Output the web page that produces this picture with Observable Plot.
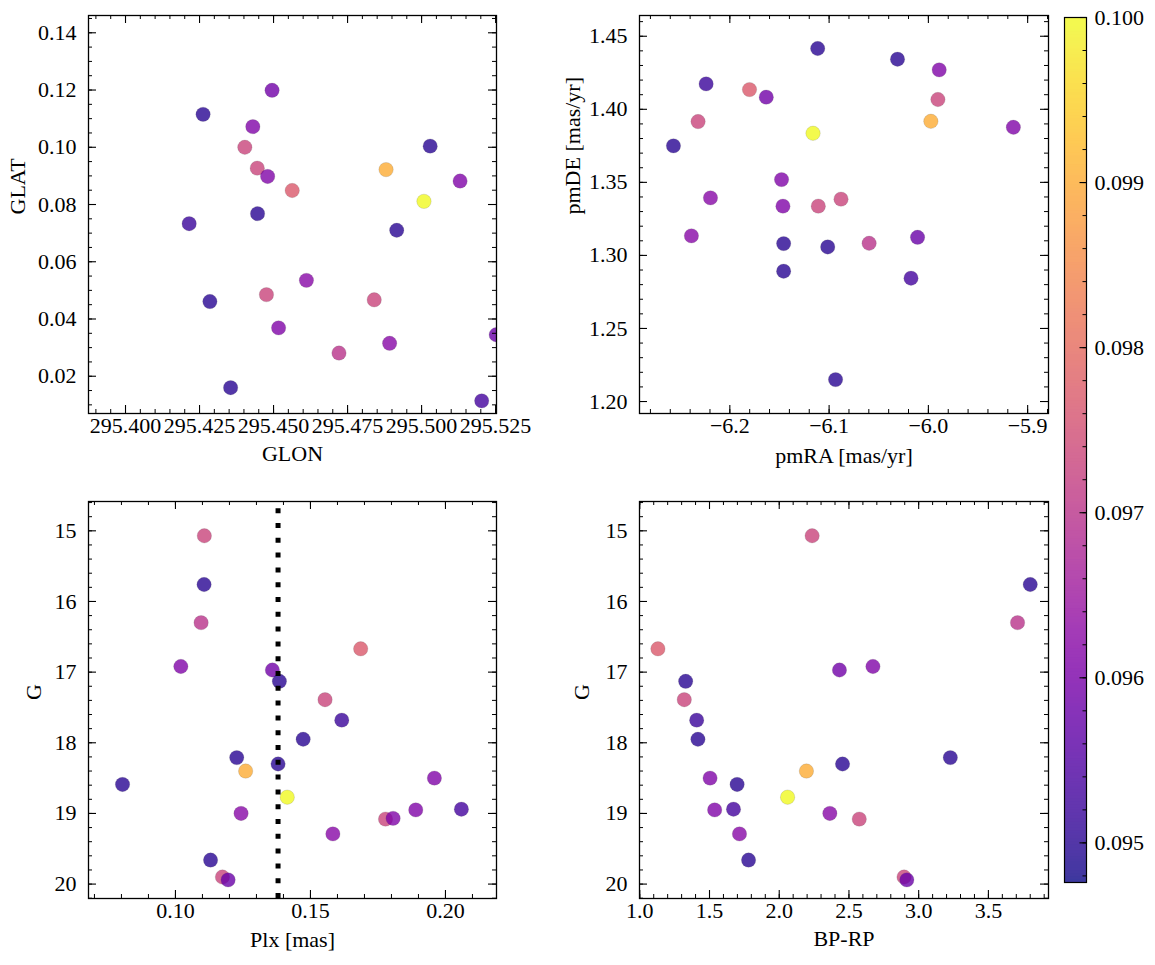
<!DOCTYPE html>
<html><head><meta charset="utf-8">
<script src="https://cdn.jsdelivr.net/npm/d3@7"></script>
<script src="https://cdn.jsdelivr.net/npm/@observablehq/plot@0.6"></script>
<style>
body{margin:0;background:#fff;}
#fig{position:relative;width:1155px;height:965px;background:#fff;overflow:hidden;}
#fig > div{position:absolute;}
#fig svg{background:transparent;overflow:visible;}
</style></head><body><div id="fig"></div>
<script>
// ---- data (one entry per star) ----
const starId = ["S1","S2","S3","S4","S5","S6","S7","S8","S9","S10","S11","S12","S13","S14","S15","S16","S17","S18","S19","S20","S21","S22","S23","S24","S25"];
const glon = [295.4445,295.4262,295.4721,295.4563,295.4480,295.4495,295.4446,295.4403,295.4215,295.5029,295.4916,295.4285,295.4880,295.4430,295.4355,295.5008,295.5130,295.5203,295.4611,295.4476,295.4517,295.4892,null,295.4840,295.5252];
const glat = [0.0927,0.1115,0.0281,0.0849,0.0898,0.1199,0.0768,0.1000,0.0733,0.1004,0.0710,0.0461,0.0922,0.1072,0.0160,0.0811,0.0882,0.0114,0.0535,0.0485,0.0369,0.0315,null,0.0467,0.0345];
const pmra = [-6.2320,-6.1115,-6.0597,-6.1802,-5.9891,-6.1633,-6.0311,-5.9904,-6.2239,-6.2568,-6.1458,-6.1014,-5.9975,-5.9144,-6.1458,-6.1162,-6.1479,-6.0175,-6.2195,-6.1109,-6.1465,-6.2387,-6.0935,-6.0880,-6.0109];
const pmde = [1.3916,1.4416,1.3083,1.4135,1.4270,1.4083,1.4343,1.4067,1.4174,1.3750,1.3081,1.3058,1.3918,1.3877,1.2892,1.3836,1.3519,1.2844,1.3394,1.3337,1.3337,1.3134,1.2150,1.3385,1.3124];
const plx  = [0.1107,0.1106,0.1095,0.1686,0.1020,0.1359,0.1385,0.1554,0.1616,0.1473,0.1227,0.1380,0.1260,0.1959,0.0804,0.1414,0.1890,0.2059,0.1243,0.1778,0.1806,0.1583,0.1130,0.1174,0.1195];
const gmag = [15.07,15.76,16.30,16.67,16.92,16.97,17.13,17.39,17.68,17.95,18.21,18.30,18.40,18.50,18.59,18.77,18.95,18.94,19.00,19.08,19.07,19.29,19.66,19.90,19.94];
const bprp = [2.236,3.800,3.709,1.130,2.672,2.432,1.329,1.319,1.408,1.417,3.227,2.454,2.195,1.504,1.698,2.060,1.537,1.672,2.363,2.574,null,1.715,1.780,2.895,2.915];
const cval = [0.0973,0.0950,0.0970,0.0977,0.0961,0.0959,0.0950,0.0973,0.0952,0.0950,0.0950,0.0950,0.0990,0.0961,0.0950,0.1000,0.0961,0.0953,0.0962,0.0973,0.0961,0.0962,0.0950,0.0973,0.0958];
const plxRef = 0.1380;

// ---- tick labels ----
const glonTicks = [295.400,295.425,295.450,295.475,295.500,295.525];
const glatTicks = [0.02,0.04,0.06,0.08,0.10,0.12,0.14];
const pmraTicks = [-6.2,-6.1,-6.0,-5.9];
const pmdeTicks = [1.20,1.25,1.30,1.35,1.40,1.45];
const plxTicks  = [0.10,0.15,0.20];
const gTicks    = [15,16,17,18,19,20];
const bprpTicks = [1.0,1.5,2.0,2.5,3.0,3.5];
const cTicks    = [0.095,0.096,0.097,0.098,0.099,0.100];
const cDomain   = [0.09476,0.1000];

const stars = starId.map((id,i)=>({id, glon:glon[i], glat:glat[i], pmra:pmra[i], pmde:pmde[i], plx:plx[i], g:gmag[i], bprp:bprp[i], c:cval[i]}));

const FONT = "'Liberation Serif','Times New Roman',serif";
const FS = 22;
const colorScale = {type:"linear", scheme:"plasma", domain:cDomain};

function minor(dom, step){
  const lo = Math.min(dom[0],dom[1]), hi = Math.max(dom[0],dom[1]);
  const a = Math.ceil(lo/step - 1e-6), b = Math.floor(hi/step + 1e-6);
  return d3.range(a, b+1).map(k => +(k*step).toPrecision(12));
}
const minus = s => s.replace("-", "\u2212");

function panel(o){
  const W = o.width - o.ml - o.mr, H = o.height - o.mt - o.mb;
  const data = stars.filter(d => d[o.x] != null && d[o.y] != null);
  const xmin = minor(o.xDomain, o.xMinor), ymin = minor(o.yDomain, o.yMinor);
  const xmaj = o.xTicks, ymaj = o.yTicks;
  const L = 8, l = 4;
  const marks = [
    Plot.dot(data, {x:o.x, y:o.y, r:7.2, fill:"c", fillOpacity:0.8, stroke:"#555", strokeOpacity:0.35, strokeWidth:0.5, clip:true}),
    ...(o.extra || []),
    Plot.frame({stroke:"black", strokeWidth:1.3}),
    Plot.ruleX(xmin, {x:d=>d, insetTop:H-l, stroke:"black", strokeWidth:1}),
    Plot.ruleX(xmin, {x:d=>d, insetBottom:H-l, stroke:"black", strokeWidth:1}),
    Plot.ruleX(xmaj, {x:d=>d, insetTop:H-L, stroke:"black", strokeWidth:1.1}),
    Plot.ruleX(xmaj, {x:d=>d, insetBottom:H-L, stroke:"black", strokeWidth:1.1}),
    Plot.ruleY(ymin, {y:d=>d, insetRight:W-l, stroke:"black", strokeWidth:1}),
    Plot.ruleY(ymin, {y:d=>d, insetLeft:W-l, stroke:"black", strokeWidth:1}),
    Plot.ruleY(ymaj, {y:d=>d, insetRight:W-L, stroke:"black", strokeWidth:1.1}),
    Plot.ruleY(ymaj, {y:d=>d, insetLeft:W-L, stroke:"black", strokeWidth:1.1}),
    Plot.text(xmaj, {x:d=>d, frameAnchor:"bottom", dy:19, text:o.xFmt, fontSize:FS, fill:"black"}),
    Plot.text(ymaj, {y:d=>d, frameAnchor:"left", dx:-12, textAnchor:"end", text:o.yFmt, fontSize:FS, fill:"black"}),
    Plot.text([o.xLabel], {frameAnchor:"bottom", dy:o.xLabelDy + 4, text:d=>d, fontSize:FS, fill:"black"}),
    Plot.text([o.yLabel], {frameAnchor:"left", dx:o.yLabelDx, rotate:-90, text:d=>d, fontSize:FS, fill:"black"})
  ];
  const svg = Plot.plot({
    width:o.width, height:o.height,
    marginLeft:o.ml, marginRight:o.mr, marginTop:o.mt, marginBottom:o.mb,
    style:{fontFamily:FONT, background:"transparent", overflow:"visible"},
    x:{domain:o.xDomain, axis:null},
    y:{domain:o.yDomain, axis:null},
    color:colorScale,
    marks
  });
  const div = document.createElement("div");
  div.style.left = o.left + "px"; div.style.top = o.top + "px";
  div.appendChild(svg);
  document.getElementById("fig").appendChild(div);
}

const gDomain = [20.204, 14.585];

panel({left:0, top:0, width:540, height:480, ml:88, mr:44, mt:15, mb:67,
  x:"glon", y:"glat", xDomain:[295.3875,295.5253], yDomain:[0.00698,0.14604],
  xTicks:glonTicks, yTicks:glatTicks, xMinor:0.005, yMinor:0.005,
  xFmt:d=>d.toFixed(3), yFmt:d=>d.toFixed(2),
  xLabel:"GLON", yLabel:"GLAT", xLabelDy:43, yLabelDx:-71});

panel({left:540, top:0, width:516, height:480, ml:99, mr:8, mt:15, mb:67,
  x:"pmra", y:"pmde", xDomain:[-6.291,-5.879], yDomain:[1.1918,1.4642],
  xTicks:pmraTicks, yTicks:pmdeTicks, xMinor:0.02, yMinor:0.01,
  xFmt:d=>minus(d.toFixed(1)), yFmt:d=>d.toFixed(2),
  xLabel:"pmRA [mas/yr]", yLabel:"pmDE [mas/yr]", xLabelDy:45, yLabelDx:-67});

panel({left:0, top:480, width:540, height:485, ml:88, mr:44, mt:21, mb:67,
  x:"plx", y:"g", xDomain:[0.0678,0.2189], yDomain:gDomain,
  xTicks:plxTicks, yTicks:gTicks, xMinor:0.01, yMinor:0.2,
  xFmt:d=>d.toFixed(2), yFmt:d=>String(d),
  xLabel:"Plx [mas]", yLabel:"G", xLabelDy:44, yLabelDx:-55,
  extra:[Plot.ruleX([plxRef], {x:d=>d, y1:gDomain[0], y2:gDomain[1], stroke:"black", strokeWidth:5, strokeDasharray:"5,9.8"})]});

panel({left:540, top:480, width:516, height:485, ml:99, mr:8, mt:21, mb:67,
  x:"bprp", y:"g", xDomain:[0.998,3.931], yDomain:gDomain,
  xTicks:bprpTicks, yTicks:gTicks, xMinor:0.1, yMinor:0.2,
  xFmt:d=>d.toFixed(1), yFmt:d=>String(d),
  xLabel:"BP-RP", yLabel:"G", xLabelDy:43, yLabelDx:-58});

// ---- colorbar ----
(function(){
  const width = 99, height = 965, ml = 8, mr = 69, mt = 17, mb = 83;
  const W = width - ml - mr;
  const N = 300;
  const step = (cDomain[1]-cDomain[0])/N;
  const slices = d3.range(N).map(i => [cDomain[0]+i*step, Math.min(cDomain[1], cDomain[0]+(i+1.6)*step)]);
  const svg = Plot.plot({
    width, height, marginLeft:ml, marginRight:mr, marginTop:mt, marginBottom:mb,
    style:{fontFamily:FONT, background:"transparent", overflow:"visible"},
    x:{domain:[0,1], axis:null},
    y:{domain:cDomain, axis:null},
    color:colorScale,
    marks:[
      Plot.rect(slices, {x1:0, x2:1, y1:d=>d[0], y2:d=>d[1], fill:d=>(d[0]+d[1])/2}),
      Plot.rect([cDomain], {x1:0, x2:1, y1:d=>d[0], y2:d=>d[1], fill:"white", fillOpacity:0.2}),
      Plot.frame({stroke:"black", strokeWidth:1.2}),
      Plot.ruleY(minor(cDomain, 0.0002), {y:d=>d, insetLeft:W-3.5, stroke:"black", strokeWidth:1}),
      Plot.ruleY(cTicks, {y:d=>d, insetLeft:W-6.5, stroke:"black", strokeWidth:1.1}),
      Plot.text(cTicks, {y:d=>d, frameAnchor:"right", dx:8, textAnchor:"start", text:d=>d.toFixed(3), fontSize:FS, fill:"black"})
    ]
  });
  const div = document.createElement("div");
  div.style.left = "1056px"; div.style.top = "0px";
  div.appendChild(svg);
  document.getElementById("fig").appendChild(div);
})();
</script>
</body></html>
